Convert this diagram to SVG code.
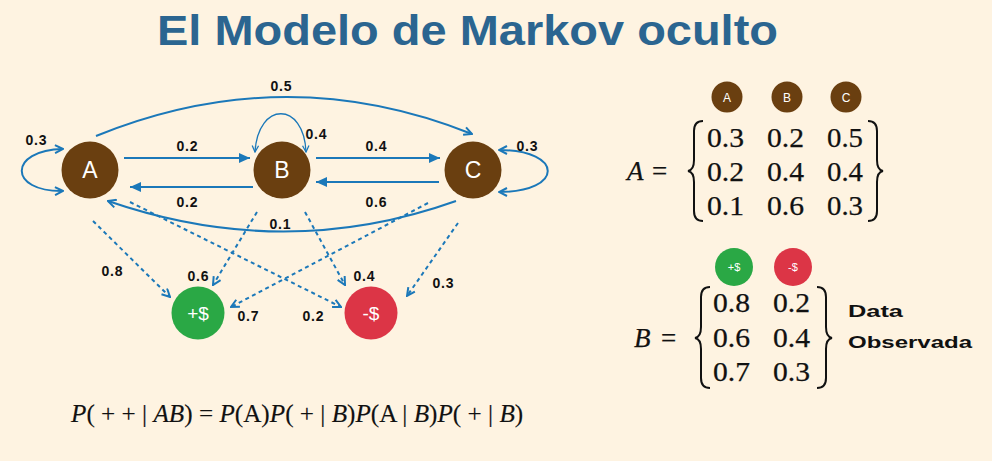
<svg xmlns="http://www.w3.org/2000/svg" width="992" height="461" viewBox="0 0 992 461">
<defs>
<style>
.bg{fill:#fef3e1}
.st{fill:#6a3f10}
.lbl{font-family:"Liberation Sans",Arial,sans-serif;font-weight:bold;font-size:14px;fill:#111;text-anchor:middle}
.nt{font-family:"Liberation Sans",Arial,sans-serif;fill:#fff;text-anchor:middle}
.e{fill:none;stroke:#1b78b9;stroke-width:2}
.d{fill:none;stroke:#1b78b9;stroke-width:2;stroke-dasharray:4 3.5}
.m{font-family:"Liberation Serif","Times New Roman",serif;font-size:27px;fill:#111;stroke:#111;stroke-width:0.25}
.br{fill:none;stroke:#111;stroke-width:2}
</style>
<marker id="tri" viewBox="0 0 10 10" refX="10" refY="5" markerWidth="11" markerHeight="11" markerUnits="userSpaceOnUse" orient="auto">
<path d="M0,0.5 L10,5 L0,9.5 Z" fill="#1b78b9"/>
</marker>
<marker id="chev" viewBox="0 0 10 10" refX="9" refY="5" markerWidth="10" markerHeight="10" markerUnits="userSpaceOnUse" orient="auto-start-reverse">
<path d="M1,1 L9,5 L1,9" fill="none" stroke="#1b78b9" stroke-width="2"/>
</marker>
<marker id="chevs" viewBox="0 0 10 10" refX="9" refY="5" markerWidth="8" markerHeight="8" markerUnits="userSpaceOnUse" orient="auto-start-reverse">
<path d="M1,1 L9,5 L1,9" fill="none" stroke="#1b78b9" stroke-width="1.6"/>
</marker>
</defs>
<rect class="bg" x="0" y="0" width="992" height="461"/>
<text x="157" y="45" font-family="'Liberation Sans',Arial,sans-serif" font-weight="bold" font-size="43" fill="#2b6590" textLength="621" lengthAdjust="spacingAndGlyphs">El Modelo de Markov oculto</text>

<g id="connectors">
<line class="e" x1="124" y1="158" x2="250" y2="158" marker-end="url(#tri)"/>
<line class="e" x1="253" y1="187" x2="130" y2="187" marker-end="url(#tri)"/>
<line class="e" x1="316" y1="158" x2="440" y2="158" marker-end="url(#tri)"/>
<line class="e" x1="439" y1="182" x2="316" y2="182" marker-end="url(#tri)"/>
<path class="e" d="M96,136 Q285,59 472,134" marker-end="url(#chev)"/>
<path class="e" d="M456,201 Q285,262 108,201" marker-end="url(#chev)"/>
<path class="e" d="M63,149 C8,150 8,192 63,191" marker-start="url(#chev)" marker-end="url(#chev)"/>
<path class="e" d="M499,150 C564,150 564,192 499,192" marker-start="url(#chev)" marker-end="url(#chev)"/>
<path class="e" style="stroke-width:1.3" d="M255,152 C258,101 304,101 306,152" marker-start="url(#chevs)" marker-end="url(#chevs)"/>
<line class="d" x1="93" y1="221" x2="170" y2="297" marker-end="url(#chev)"/>
<line class="d" x1="130" y1="202" x2="341" y2="307" marker-end="url(#chev)"/>
<line class="d" x1="257" y1="212" x2="213" y2="285" marker-end="url(#chev)"/>
<line class="d" x1="305" y1="212" x2="345" y2="285" marker-end="url(#chev)"/>
<line class="d" x1="428" y1="203" x2="231" y2="307" marker-end="url(#chev)"/>
<line class="d" x1="458" y1="223" x2="407" y2="296" marker-end="url(#chev)"/>
<text class="lbl" x="281" y="91" textLength="21">0.5</text>
<text class="lbl" x="36" y="145" textLength="21">0.3</text>
<text class="lbl" x="187" y="151" textLength="21">0.2</text>
<text class="lbl" x="187" y="207" textLength="21">0.2</text>
<text class="lbl" x="316" y="139" textLength="21">0.4</text>
<text class="lbl" x="376" y="151" textLength="21">0.4</text>
<text class="lbl" x="376" y="207" textLength="21">0.6</text>
<text class="lbl" x="527" y="151" textLength="21">0.3</text>
<text class="lbl" x="280" y="229" textLength="21">0.1</text>
<text class="lbl" x="112" y="276" textLength="21">0.8</text>
<text class="lbl" x="198" y="281" textLength="21">0.6</text>
<text class="lbl" x="248" y="321" textLength="21">0.7</text>
<text class="lbl" x="313" y="321" textLength="21">0.2</text>
<text class="lbl" x="364" y="281" textLength="21">0.4</text>
<text class="lbl" x="443" y="288" textLength="21">0.3</text>
</g>

<g id="node-A"><circle class="st" cx="90" cy="170" r="28.5"/><text class="nt" x="90" y="178" font-size="23">A</text></g>
<g id="node-B"><circle class="st" cx="282" cy="170" r="28.5"/><text class="nt" x="282" y="178" font-size="23">B</text></g>
<g id="node-C"><circle class="st" cx="473" cy="170" r="28.5"/><text class="nt" x="473" y="178" font-size="23">C</text></g>
<g id="node-plus"><circle cx="198" cy="313" r="26.5" fill="#2aa845"/><text class="nt" x="198" y="320" font-size="19">+$</text></g>
<g id="node-minus"><circle cx="371" cy="313" r="26.5" fill="#dc3546"/><text class="nt" x="371" y="320" font-size="19">-$</text></g>

<g id="matrix-A">
<circle class="st" cx="727" cy="97" r="15.5"/><text class="nt" x="727" y="101.5" font-size="12">A</text>
<circle class="st" cx="787" cy="97" r="15.5"/><text class="nt" x="787" y="101.5" font-size="12">B</text>
<circle class="st" cx="846" cy="97" r="15.5"/><text class="nt" x="846" y="101.5" font-size="12">C</text>
<text class="m" x="627" y="180" font-style="italic">A</text>
<text class="m" x="652" y="180">=</text>
<path class="br" d="M703,121 Q694,121 694,131 L694,160 Q694,170 688,171 Q694,172 694,182 L694,211 Q694,221 703,221"/>
<path class="br" d="M868,121 Q877,121 877,131 L877,160 Q877,170 883,171 Q877,172 877,182 L877,211 Q877,221 868,221"/>
<text class="m"><tspan x="707" y="147" textLength="37" lengthAdjust="spacingAndGlyphs">0.3</tspan><tspan x="767" y="147" textLength="37" lengthAdjust="spacingAndGlyphs">0.2</tspan><tspan x="827" y="147" textLength="36" lengthAdjust="spacingAndGlyphs">0.5</tspan></text>
<text class="m"><tspan x="707" y="181" textLength="37" lengthAdjust="spacingAndGlyphs">0.2</tspan><tspan x="767" y="181" textLength="37" lengthAdjust="spacingAndGlyphs">0.4</tspan><tspan x="827" y="181" textLength="36" lengthAdjust="spacingAndGlyphs">0.4</tspan></text>
<text class="m"><tspan x="707" y="215" textLength="37" lengthAdjust="spacingAndGlyphs">0.1</tspan><tspan x="767" y="215" textLength="37" lengthAdjust="spacingAndGlyphs">0.6</tspan><tspan x="827" y="215" textLength="36" lengthAdjust="spacingAndGlyphs">0.3</tspan></text>
</g>

<g id="matrix-B">
<circle cx="734" cy="267" r="19" fill="#2aa845"/><text class="nt" x="734" y="271" font-size="11">+$</text>
<circle cx="793" cy="267" r="19" fill="#dc3546"/><text class="nt" x="793" y="271" font-size="11">-$</text>
<text class="m" x="634" y="347" font-style="italic">B</text>
<text class="m" x="661" y="347">=</text>
<path class="br" d="M710,287 Q701,287 701,297 L701,327 Q701,337 695,338 Q701,339 701,349 L701,378 Q701,388 710,388"/>
<path class="br" d="M817,287 Q826,287 826,297 L826,327 Q826,337 832,338 Q826,339 826,349 L826,378 Q826,388 817,388"/>
<text class="m"><tspan x="713" y="312" textLength="37" lengthAdjust="spacingAndGlyphs">0.8</tspan><tspan x="773" y="312" textLength="37" lengthAdjust="spacingAndGlyphs">0.2</tspan></text>
<text class="m"><tspan x="713" y="347" textLength="37" lengthAdjust="spacingAndGlyphs">0.6</tspan><tspan x="773" y="347" textLength="37" lengthAdjust="spacingAndGlyphs">0.4</tspan></text>
<text class="m"><tspan x="713" y="381" textLength="37" lengthAdjust="spacingAndGlyphs">0.7</tspan><tspan x="773" y="381" textLength="37" lengthAdjust="spacingAndGlyphs">0.3</tspan></text>
<text x="848" y="317" font-family="'Liberation Sans',Arial,sans-serif" font-weight="bold" font-size="17" fill="#111" textLength="55" lengthAdjust="spacingAndGlyphs">Data</text>
<text x="848" y="348" font-family="'Liberation Sans',Arial,sans-serif" font-weight="bold" font-size="17" fill="#111" textLength="124" lengthAdjust="spacingAndGlyphs">Observada</text>
</g>

<text class="m" x="71" y="422" style="font-size:25.2px;stroke-width:0.15"><tspan font-style="italic">P</tspan>( + + | <tspan font-style="italic">AB</tspan>) = <tspan font-style="italic">P</tspan>(A)<tspan font-style="italic">P</tspan>( + | <tspan font-style="italic">B</tspan>)<tspan font-style="italic">P</tspan>(A | <tspan font-style="italic">B</tspan>)<tspan font-style="italic">P</tspan>( + | <tspan font-style="italic">B</tspan>)</text>
</svg>
